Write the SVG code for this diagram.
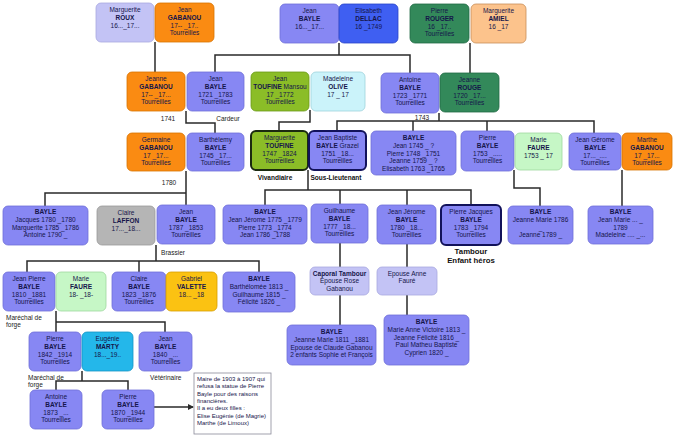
<svg xmlns="http://www.w3.org/2000/svg" width="680" height="439" viewBox="0 0 680 439">
<style>
.n rect{rx:5px;ry:5px;stroke-width:0.8}
text{font-family:"Liberation Sans",Arial,sans-serif;font-size:6.5px;fill:#15154a;text-anchor:middle}
.bd{font-weight:bold}
.lab{font-size:6.5px;fill:#222}
.lbl{font-size:6.5px;font-weight:bold;fill:#111}
.big{font-size:7.8px;font-weight:bold;fill:#111}
.note{font-size:6px;fill:#15154a;text-anchor:start}
.lav{fill:#8787f3;stroke:#6f6fd8}
.lav2{fill:#c3c3f5;stroke:#a8a8e0}
.org{fill:#fa8b12;stroke:#d87400}
.blu{fill:#3f5ff2;stroke:#2a44c8}
.grn{fill:#33895a;stroke:#226a44}
.pch{fill:#fcc38c;stroke:#c88e58}
.olv{fill:#8bbd27;stroke:#6a9a18}
.cyl{fill:#cbf3fa;stroke:#9fd3dc}
.lgr{fill:#c6f7c6;stroke:#a0d8a0}
.gry{fill:#b5b5b5;stroke:#999}
.gld{fill:#fbc212;stroke:#d8a000}
.cya{fill:#24b7ea;stroke:#1596c4}
.n rect.thk{stroke:#12125a;stroke-width:2}
.n rect.thkg{stroke:#1b2a10;stroke-width:2}
.c{fill:none;stroke:#2a2a2a;stroke-width:1.5}
</style>
<defs>
<marker id="arr" markerWidth="6" markerHeight="6" refX="5" refY="3" orient="auto" markerUnits="userSpaceOnUse">
<path d="M0,0 L6,3 L0,6 z" fill="#2a2a2a"/>
</marker>
</defs>
<rect width="680" height="439" fill="#fff"/>
<g id="connectors">
<path class="c" d="M155,42 V72"/>
<path class="c" d="M339,43 V55 M215,72 V55 H410 V73"/>
<path class="c" d="M470,43 V73"/>
<path class="c" d="M186,111 V123 H215 V133"/>
<path class="c" d="M310,110 V122 H279 V131"/>
<path class="c" d="M439,113 V121 M337,131 V121 H594 V133 M413,121 V131 M487,121 V131"/>
<path class="c" d="M186,171 V205 M45,206 V193 H186"/>
<path class="c" d="M308,170 V190 M265,205 V190 H471 V205 M340,190 V204 M407,190 V205"/>
<path class="c" d="M514,170 V188 H540 V206"/>
<path class="c" d="M622,170 V206"/>
<path class="c" d="M156,245 V261 M27,272 V261 H259 V272 M139,261 V272"/>
<path class="c" d="M340,243 V267 M407,244 V267"/>
<path class="c" d="M56,311 V332 M56,322 H165 V332"/>
<path class="c" d="M340,295 V325 M407,295 V315"/>
<path class="c" d="M82,371 V381 M56,390 V381 H128 V390"/>
<path class="c" d="M154,407 H193" marker-end="url(#arr)"/>
</g>

<g id="n1" class="n"><rect class="lav2" x="96" y="3" width="58" height="39"/><text><tspan x="125" y="12.3">Marguerite</tspan><tspan x="125" y="19.9" class="bd">ROUX</tspan><tspan x="125" y="27.5">16..._17...</tspan></text></g>
<g id="n2" class="n"><rect class="org" x="155" y="3" width="59" height="39"/><text><tspan x="184.5" y="12.3">Jean</tspan><tspan x="184.5" y="19.9" class="bd">GABANOU</tspan><tspan x="184.5" y="27.5">17-- _17..</tspan><tspan x="184.5" y="35.1">Tourreilles</tspan></text></g>
<g id="n3" class="n"><rect class="lav" x="280" y="4" width="59" height="39"/><text><tspan x="309.5" y="13.3">Jean</tspan><tspan x="309.5" y="20.9" class="bd">BAYLE</tspan><tspan x="309.5" y="28.5">16..._17...</tspan></text></g>
<g id="n4" class="n"><rect class="blu" x="339" y="4" width="59" height="39"/><text><tspan x="368.5" y="13.3">Elisabeth</tspan><tspan x="368.5" y="20.9" class="bd">DELLAC</tspan><tspan x="368.5" y="28.5">16 _1749</tspan></text></g>
<g id="n5" class="n"><rect class="grn" x="410" y="4" width="59" height="39"/><text><tspan x="439.5" y="13.3">Pierre</tspan><tspan x="439.5" y="20.9" class="bd">ROUGER</tspan><tspan x="439.5" y="28.5">16 _17..</tspan><tspan x="439.5" y="36.1">Tourreilles</tspan></text></g>
<g id="n6" class="n"><rect class="pch" x="471" y="4" width="55" height="39"/><text><tspan x="498.5" y="13.3">Marguerite</tspan><tspan x="498.5" y="20.9" class="bd">AMIEL</tspan><tspan x="498.5" y="28.5">16 _17</tspan></text></g>

<g id="n7" class="n"><rect class="org" x="127" y="72" width="58" height="39"/><text><tspan x="156" y="81.3">Jeanne</tspan><tspan x="156" y="88.9" class="bd">GABANOU</tspan><tspan x="156" y="96.5">17-- _17...</tspan><tspan x="156" y="104.1">Tourreilles</tspan></text></g>
<g id="n8" class="n"><rect class="lav" x="187" y="72" width="57" height="39"/><text><tspan x="215.5" y="81.3">Jean</tspan><tspan x="215.5" y="88.9" class="bd">BAYLE</tspan><tspan x="215.5" y="96.5">1721 _1783</tspan><tspan x="215.5" y="104.1">Tourreilles</tspan></text></g>
<g id="n9" class="n"><rect class="olv" x="251" y="72" width="58" height="39"/><text><tspan x="280" y="81.3">Jean</tspan><tspan x="280" y="88.9"><tspan class="bd">TOUFINE</tspan> Mansou</tspan><tspan x="280" y="96.5">17 _1772</tspan><tspan x="280" y="104.1">Tourreilles</tspan></text></g>
<g id="n10" class="n"><rect class="cyl" x="311" y="72" width="54" height="39"/><text><tspan x="338" y="81.3">Madeleine</tspan><tspan x="338" y="88.9" class="bd">OLIVE</tspan><tspan x="338" y="96.5">17    _ 17</tspan></text></g>
<g id="n11" class="n"><rect class="lav" x="381" y="73" width="58" height="40"/><text><tspan x="410" y="82.3">Antoine</tspan><tspan x="410" y="89.9" class="bd">BAYLE</tspan><tspan x="410" y="97.5">1723 _1771</tspan><tspan x="410" y="105.1">Tourreilles</tspan></text></g>
<g id="n12" class="n"><rect class="grn" x="440" y="73" width="59" height="39"/><text><tspan x="469.5" y="82.3">Jeanne</tspan><tspan x="469.5" y="89.9" class="bd">ROUGE</tspan><tspan x="469.5" y="97.5">1720 _17...</tspan><tspan x="469.5" y="105.1">Tourreilles</tspan></text></g>

<g id="n13" class="n"><rect class="org" x="127" y="133" width="58" height="38"/><text><tspan x="156" y="142.3">Germaine</tspan><tspan x="156" y="149.9" class="bd">GABANOU</tspan><tspan x="156" y="157.5">17 _17...</tspan><tspan x="156" y="165.1">Tourreilles</tspan></text></g>
<g id="n14" class="n"><rect class="lav" x="187" y="133" width="57" height="38"/><text><tspan x="215.5" y="142.3">Barthélemy</tspan><tspan x="215.5" y="149.9" class="bd">BAYLE</tspan><tspan x="215.5" y="157.5">1745 _17...</tspan><tspan x="215.5" y="165.1">Tourreilles</tspan></text></g>
<g id="n15" class="n"><rect class="olv thkg" x="251" y="131" width="57" height="39"/><text><tspan x="279.5" y="140.3">Marguerite</tspan><tspan x="279.5" y="147.9" class="bd">TOUFINE</tspan><tspan x="279.5" y="155.5">1747 _1824</tspan><tspan x="279.5" y="163.1">Tourreilles</tspan></text></g>
<g id="n16" class="n"><rect class="lav thk" x="309" y="131" width="57" height="39"/><text><tspan x="337.5" y="140.3">Jean Baptiste</tspan><tspan x="337.5" y="147.9"><tspan class="bd">BAYLE</tspan> Grazel</tspan><tspan x="337.5" y="155.5">1751 _18...</tspan><tspan x="337.5" y="163.1">Tourreilles</tspan></text></g>
<g id="n17" class="n"><rect class="lav" x="371" y="131" width="85" height="44"/><text><tspan x="413.5" y="140.3" class="bd">BAYLE</tspan><tspan x="413.5" y="147.9">Jean 1745 _ ?</tspan><tspan x="413.5" y="155.5">Pierre 1748 _1751</tspan><tspan x="413.5" y="163.1">Jeanne 1759 _ ?</tspan><tspan x="413.5" y="170.7">Elisabeth 1763 _1765</tspan></text></g>
<g id="n18" class="n"><rect class="lav" x="461" y="131" width="53" height="40"/><text><tspan x="487.5" y="140.3">Pierre</tspan><tspan x="487.5" y="147.9" class="bd">BAYLE</tspan><tspan x="487.5" y="155.5">1753 _.....</tspan><tspan x="487.5" y="163.1">Tourreilles</tspan></text></g>
<g id="n19" class="n"><rect class="lgr" x="515" y="133" width="47" height="37"/><text><tspan x="538.5" y="142.3">Marie</tspan><tspan x="538.5" y="149.9" class="bd">FAURE</tspan><tspan x="538.5" y="157.5">1753 _ 17</tspan></text></g>
<g id="n20" class="n"><rect class="lav" x="569" y="133" width="52" height="37"/><text><tspan x="595" y="142.3">Jean Gérome</tspan><tspan x="595" y="149.9" class="bd">BAYLE</tspan><tspan x="595" y="157.5">17..._....</tspan><tspan x="595" y="165.1">Tourreilles</tspan></text></g>
<g id="n21" class="n"><rect class="org" x="622" y="133" width="50" height="37"/><text><tspan x="647" y="142.3">Marthe</tspan><tspan x="647" y="149.9" class="bd">GABANOU</tspan><tspan x="647" y="157.5">17 _17...</tspan><tspan x="647" y="165.1">Tourreilles</tspan></text></g>

<g id="n22" class="n"><rect class="lav" x="3" y="206" width="85" height="39"/><text><tspan x="45.5" y="214.3" class="bd">BAYLE</tspan><tspan x="45.5" y="221.9">Jacques 1780 _1780</tspan><tspan x="45.5" y="229.5">Marguerite 1785 _1786</tspan><tspan x="45.5" y="237.1">Antoine 1790 _</tspan></text></g>
<g id="n23" class="n"><rect class="gry" x="97" y="206" width="58" height="39"/><text><tspan x="126" y="215.3">Claire</tspan><tspan x="126" y="222.9" class="bd">LAFFON</tspan><tspan x="126" y="230.5">17..._18...</tspan></text></g>
<g id="n24" class="n"><rect class="lav" x="157" y="205" width="58" height="39"/><text><tspan x="186" y="214.3">Jean</tspan><tspan x="186" y="221.9" class="bd">BAYLE</tspan><tspan x="186" y="229.5">1787 _1853</tspan><tspan x="186" y="237.1">Tourreilles</tspan></text></g>
<g id="n25" class="n"><rect class="lav" x="223" y="205" width="84" height="39"/><text><tspan x="265" y="214.3" class="bd">BAYLE</tspan><tspan x="265" y="221.9">Jean Jérome 1775 _1779</tspan><tspan x="265" y="229.5">Pierre 1773 _1774</tspan><tspan x="265" y="237.1">Jean 1786 _1788</tspan></text></g>
<g id="n26" class="n"><rect class="lav" x="311" y="204" width="57" height="39"/><text><tspan x="339.5" y="213.3">Guilhaume</tspan><tspan x="339.5" y="220.9" class="bd">BAYLE</tspan><tspan x="339.5" y="228.5">1777 _18...</tspan><tspan x="339.5" y="236.1">Tourreilles</tspan></text></g>
<g id="n27" class="n"><rect class="lav" x="377" y="205" width="59" height="39"/><text><tspan x="406.5" y="214.3">Jean Jérome</tspan><tspan x="406.5" y="221.9" class="bd">BAYLE</tspan><tspan x="406.5" y="229.5">1780 _18...</tspan><tspan x="406.5" y="237.1">Tourreilles</tspan></text></g>
<g id="n28" class="n"><rect class="lav thk" x="441" y="205" width="60" height="40"/><text><tspan x="471" y="214.3">Pierre Jacques</tspan><tspan x="471" y="221.9" class="bd">BAYLE</tspan><tspan x="471" y="229.5">1783 _1794</tspan><tspan x="471" y="237.1">Tourreilles</tspan></text></g>
<g id="n29" class="n"><rect class="lav" x="508" y="206" width="65" height="38"/><text><tspan x="540.5" y="214.3" class="bd">BAYLE</tspan><tspan x="540.5" y="221.9">Jeanne Marie 1786</tspan><tspan x="540.5" y="229.5">_</tspan><tspan x="540.5" y="237.1">Jeanne 1789 _</tspan></text></g>
<g id="n30" class="n"><rect class="lav" x="588" y="206" width="65" height="38"/><text><tspan x="620.5" y="214.3" class="bd">BAYLE</tspan><tspan x="620.5" y="221.9">Jean Marie ... _</tspan><tspan x="620.5" y="229.5">1789</tspan><tspan x="620.5" y="237.1">Madeleine .... _...</tspan></text></g>

<g id="n31" class="n"><rect class="lav" x="3" y="272" width="52" height="39"/><text><tspan x="29" y="281.3">Jean Pierre</tspan><tspan x="29" y="288.9" class="bd">BAYLE</tspan><tspan x="29" y="296.5">1810 _1881</tspan><tspan x="29" y="304.1">Tourreilles</tspan></text></g>
<g id="n32" class="n"><rect class="lgr" x="56" y="272" width="50" height="39"/><text><tspan x="81" y="281.3">Marie</tspan><tspan x="81" y="288.9" class="bd">FAURE</tspan><tspan x="81" y="296.5">18- _18-</tspan></text></g>
<g id="n33" class="n"><rect class="lav" x="112" y="272" width="54" height="39"/><text><tspan x="139" y="281.3">Claire</tspan><tspan x="139" y="288.9" class="bd">BAYLE</tspan><tspan x="139" y="296.5">1823 _1876</tspan><tspan x="139" y="304.1">Tourreilles</tspan></text></g>
<g id="n34" class="n"><rect class="gld" x="166" y="272" width="51" height="39"/><text><tspan x="191.5" y="281.3">Gabriel</tspan><tspan x="191.5" y="288.9" class="bd">VALETTE</tspan><tspan x="191.5" y="296.5">18... _18</tspan></text></g>
<g id="n35" class="n"><rect class="lav" x="223" y="272" width="72" height="40"/><text><tspan x="259" y="281.3" class="bd">BAYLE</tspan><tspan x="259" y="288.9">Barthélomée 1813 _</tspan><tspan x="259" y="296.5">Guilhaume 1815 _</tspan><tspan x="259" y="304.1">Félicité 1826 _</tspan></text></g>
<g id="n36" class="n"><rect class="lav2" x="310" y="267" width="59" height="28"/><text><tspan x="339.5" y="275.5" class="bd">Caporal Tambour</tspan><tspan x="339.5" y="283.1">Epouse Rose</tspan><tspan x="339.5" y="290.7">Gabanou</tspan></text></g>
<g id="n37" class="n"><rect class="lav2" x="377" y="267" width="60" height="28"/><text><tspan x="407" y="275.5">Epouse Anne</tspan><tspan x="407" y="283.1">Fauré</tspan></text></g>

<g id="n38" class="n"><rect class="lav" x="29" y="332" width="52" height="39"/><text><tspan x="55" y="341.3">Pierre</tspan><tspan x="55" y="348.9" class="bd">BAYLE</tspan><tspan x="55" y="356.5">1842 _1914</tspan><tspan x="55" y="364.1">Tourreilles</tspan></text></g>
<g id="n39" class="n"><rect class="cya" x="82" y="332" width="51" height="39"/><text><tspan x="107.5" y="341.3">Eugénie</tspan><tspan x="107.5" y="348.9" class="bd">MARTY</tspan><tspan x="107.5" y="356.5">18..._19..</tspan></text></g>
<g id="n40" class="n"><rect class="lav" x="139" y="332" width="53" height="39"/><text><tspan x="165.5" y="341.3">Jean</tspan><tspan x="165.5" y="348.9" class="bd">BAYLE</tspan><tspan x="165.5" y="356.5">1840 _...</tspan><tspan x="165.5" y="364.1">Tourreilles</tspan></text></g>
<g id="n41" class="n"><rect class="lav" x="287" y="325" width="89" height="40"/><text><tspan x="331.5" y="334.3" class="bd">BAYLE</tspan><tspan x="331.5" y="341.9">Jeanne Marie 1811 _1881</tspan><tspan x="331.5" y="349.5">Epouse de Claude Gabanou</tspan><tspan x="331.5" y="357.1">2 enfants Sophie et François</tspan></text></g>
<g id="n42" class="n"><rect class="lav" x="384" y="315" width="85" height="50"/><text><tspan x="426.5" y="324.3" class="bd">BAYLE</tspan><tspan x="426.5" y="331.9">Marie Anne Victoire 1813 _</tspan><tspan x="426.5" y="339.5">Jeanne Félicité 1816 _</tspan><tspan x="426.5" y="347.1">Paul Matheu Baptiste</tspan><tspan x="426.5" y="354.7">Cyprien 1820 _</tspan></text></g>

<g id="n43" class="n"><rect class="lav" x="30" y="390" width="52" height="39"/><text><tspan x="56" y="399.3">Antoine</tspan><tspan x="56" y="406.9" class="bd">BAYLE</tspan><tspan x="56" y="414.5">1873 _...</tspan><tspan x="56" y="422.1">Tourreilles</tspan></text></g>
<g id="n44" class="n"><rect class="lav" x="102" y="390" width="52" height="39"/><text><tspan x="128" y="399.3">Pierre</tspan><tspan x="128" y="406.9" class="bd">BAYLE</tspan><tspan x="128" y="414.5">1870 _1944</tspan><tspan x="128" y="422.1">Tourreilles</tspan></text></g>

<g id="note">
<rect x="194" y="373" width="77" height="61" fill="#fff" stroke="#8a8a9a" stroke-width="0.8"/>
<text class="note"><tspan x="197" y="381">Maire de 1903 à 1907  qui</tspan><tspan x="197" y="388.3">refusa la statue de Pierre</tspan><tspan x="197" y="395.6">Bayle pour des raisons</tspan><tspan x="197" y="402.9">financières.</tspan><tspan x="197" y="410.2">Il a eu deux filles :</tspan><tspan x="197" y="417.5">Elise Eugénie (de Magrie)</tspan><tspan x="197" y="424.8">Marthe (de Limoux)</tspan></text>
</g>

<g id="labels">
<text class="lab" x="168" y="121">1741</text>
<text class="lab" x="228" y="120.5">Cardeur</text>
<text class="lab" x="422" y="120">1743</text>
<text class="lbl" x="275" y="180">Vivandiaire</text>
<text class="lbl" x="336" y="180">Sous-Lieutenant</text>
<text class="lab" x="169" y="185">1780</text>
<text class="lab" x="173" y="255">Brassier</text>
<text class="big" x="471" y="254">Tambour</text>
<text class="big" x="471" y="263">Enfant héros</text>
<text class="lab" x="6" y="319.5" style="text-anchor:start">Maréchal de</text>
<text class="lab" x="6" y="326.5" style="text-anchor:start">forge</text>
<text class="lab" x="28" y="379.5" style="text-anchor:start">Maréchal de</text>
<text class="lab" x="28" y="386.5" style="text-anchor:start">forge</text>
<text class="lab" x="150" y="379.5" style="text-anchor:start">Vétérinaire</text>
</g>
</svg>
